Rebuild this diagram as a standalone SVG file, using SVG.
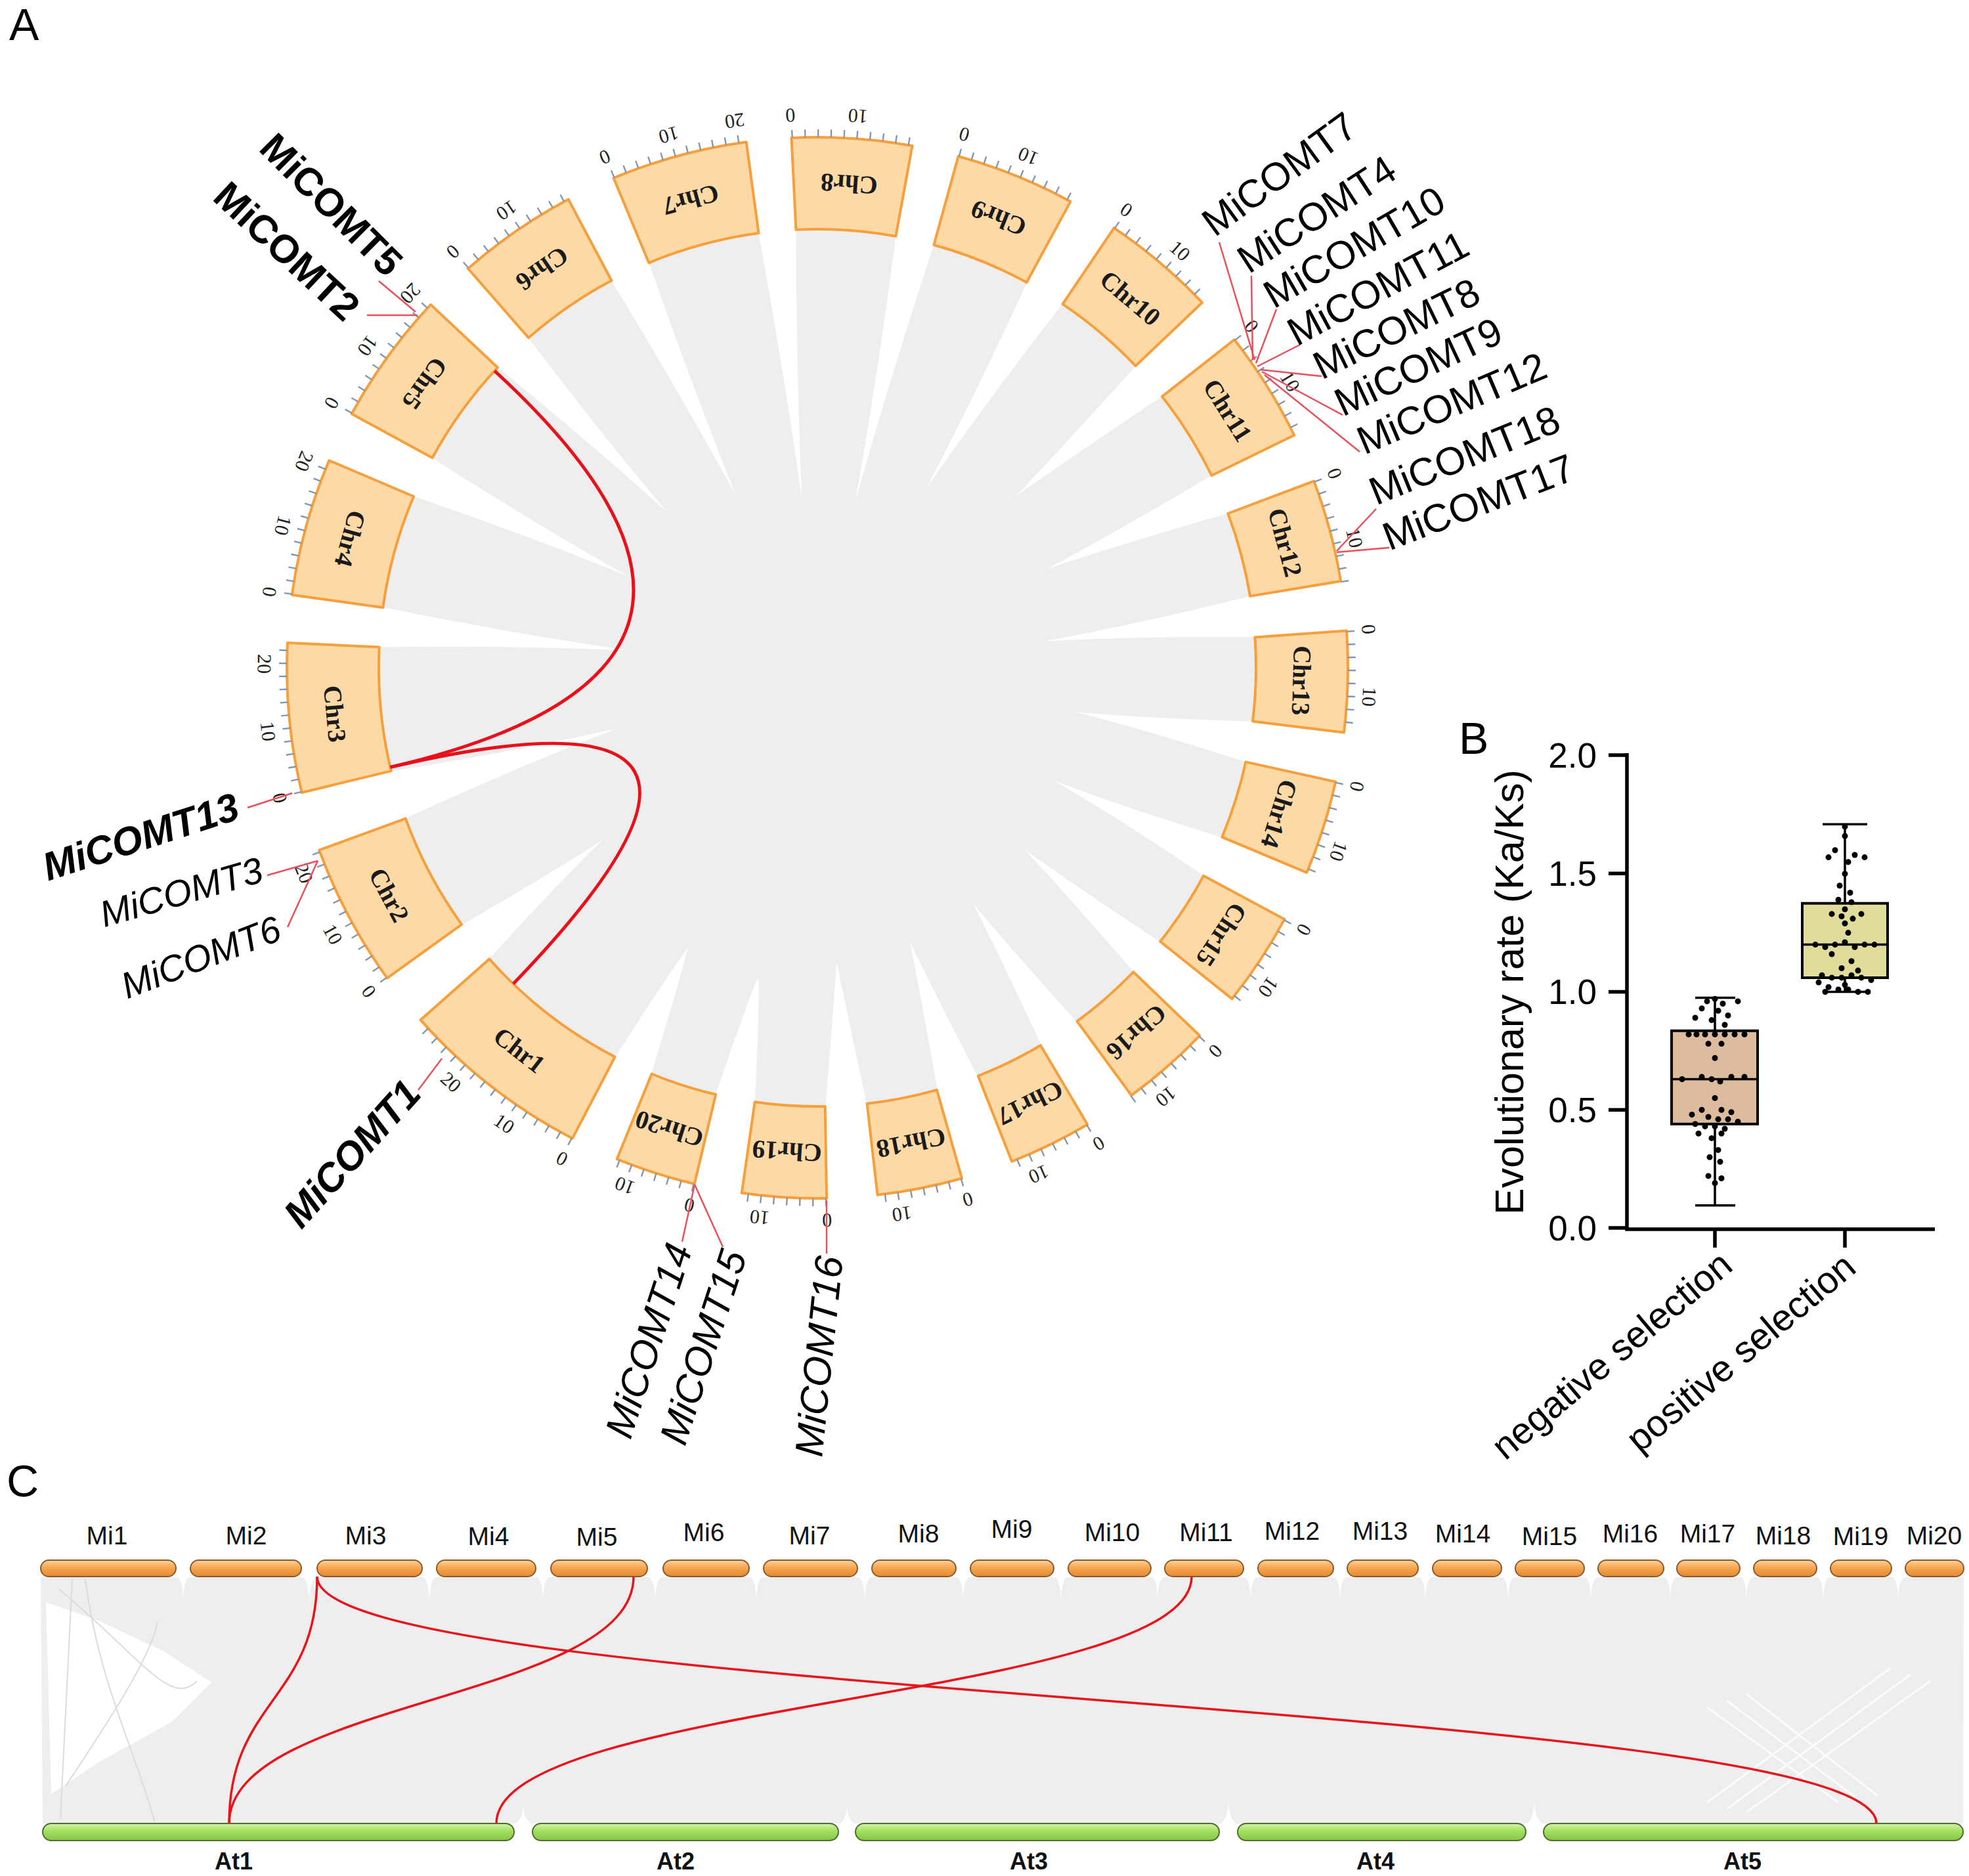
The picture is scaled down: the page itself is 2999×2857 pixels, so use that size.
<svg xmlns="http://www.w3.org/2000/svg" width="2999" height="2857" viewBox="0 0 2999 2857">
<defs>
<style>
.chr{fill:#fdd9a6;stroke:#f5a03c;stroke-width:4;stroke-linejoin:round}
.cl{font-family:"Liberation Serif",serif;font-weight:bold;font-size:39px;fill:#1a1a1a;text-anchor:middle;dominant-baseline:central}
.tl{font-family:"Liberation Serif",serif;font-size:30px;fill:#222;text-anchor:middle;dominant-baseline:central}
.tk{fill:none;stroke:#8497b0;stroke-width:12}
.d15{stroke-dasharray:2.4 17.49 2.4 17.49 2.4 17.49 2.4 17.49 2.4 17.49 2.4 17.49 2.4 17.49 2.4 17.49 2.4 17.49 2.4 17.49 2.4 17.49 2.4 17.49 2.4 17.49 2.4 17.49 2.4 6000}
.d12{stroke-dasharray:2.4 17.49 2.4 17.49 2.4 17.49 2.4 17.49 2.4 17.49 2.4 17.49 2.4 17.49 2.4 17.49 2.4 17.49 2.4 17.49 2.4 17.49 2.4 6000}
.d11{stroke-dasharray:2.4 17.49 2.4 17.49 2.4 17.49 2.4 17.49 2.4 17.49 2.4 17.49 2.4 17.49 2.4 17.49 2.4 17.49 2.4 17.49 2.4 6000}
.d10{stroke-dasharray:2.4 17.49 2.4 17.49 2.4 17.49 2.4 17.49 2.4 17.49 2.4 17.49 2.4 17.49 2.4 17.49 2.4 17.49 2.4 6000}
.d9{stroke-dasharray:2.4 17.49 2.4 17.49 2.4 17.49 2.4 17.49 2.4 17.49 2.4 17.49 2.4 17.49 2.4 17.49 2.4 6000}
.d8{stroke-dasharray:2.4 17.49 2.4 17.49 2.4 17.49 2.4 17.49 2.4 17.49 2.4 17.49 2.4 17.49 2.4 6000}
.d7{stroke-dasharray:2.4 17.49 2.4 17.49 2.4 17.49 2.4 17.49 2.4 17.49 2.4 17.49 2.4 6000}
.gl{fill:none;stroke:#e8505b;stroke-width:2.5}
.lk{fill:none;stroke:#e8101a;stroke-width:5}
.gn{font-family:"Liberation Sans",Arial,sans-serif;font-size:60px;fill:#000}
.bd{font-weight:bold}
.it{font-style:italic}
.sm{font-size:56px}
.pl{font-family:"Liberation Sans",Arial,sans-serif;font-size:68px;fill:#000}
.ax{font-family:"Liberation Sans",Arial,sans-serif;font-size:53px;fill:#000}
.axt{font-size:61px}
.xl{font-size:57px}
.mi{font-family:"Liberation Sans",Arial,sans-serif;font-size:39px;fill:#111;text-anchor:middle}
.at{font-family:"Liberation Sans",Arial,sans-serif;font-size:36px;font-weight:bold;fill:#111;text-anchor:middle}
.op{fill:url(#og);stroke:#8c5a28;stroke-width:2}
.gp{fill:url(#gg);stroke:#4f6f2c;stroke-width:2}
.rl{fill:none;stroke:#e8141c;stroke-width:3.5}
.wn{fill:#fff}
.axl{fill:none;stroke:#000;stroke-width:5.5}
.box{stroke:#000;stroke-width:4}
.wh{fill:none;stroke:#000;stroke-width:3.5}
</style>
<linearGradient id="og" x1="0" y1="0" x2="0" y2="1"><stop offset="0" stop-color="#fdd3a0"/><stop offset="0.45" stop-color="#f8a64f"/><stop offset="1" stop-color="#e08a36"/></linearGradient>
<linearGradient id="gg" x1="0" y1="0" x2="0" y2="1"><stop offset="0" stop-color="#d4f5a8"/><stop offset="0.45" stop-color="#a3e060"/><stop offset="1" stop-color="#86c448"/></linearGradient>
</defs>
<rect width="2999" height="2857" fill="#fff"/>

<!-- Panel A -->
<text class="pl" x="14" y="61">A</text>
<g id="ribbons">
<circle cx="1245" cy="1017" r="668" fill="#eeeeee"/>
<g transform="translate(1245 1017)" class="wn">
<path d="M-34,-672 Q-10,-520 0,-420 Q10,-520 34,-672 Z" transform="rotate(231.3)"/>
<path d="M-38,-672 Q-12,-480 0,-320 Q12,-480 38,-672 Z" transform="rotate(253.15)"/>
<path d="M-31,-672 Q-10,-480 0,-290 Q10,-480 31,-672 Z" transform="rotate(275.3)"/>
<path d="M-33,-672 Q-10,-480 0,-320 Q10,-480 33,-672 Z" transform="rotate(295.8)"/>
<path d="M-33,-672 Q-10,-480 0,-330 Q10,-480 33,-672 Z" transform="rotate(316)"/>
<path d="M-32,-672 Q-10,-460 0,-290 Q10,-460 32,-672 Z" transform="rotate(334.7)"/>
<path d="M-29,-672 Q-10,-460 0,-260 Q10,-460 29,-672 Z" transform="rotate(354.75)"/>
<path d="M-30,-672 Q-10,-460 0,-260 Q10,-460 30,-672 Z" transform="rotate(12.85)"/>
<path d="M-32,-672 Q-10,-480 0,-320 Q10,-480 32,-672 Z" transform="rotate(31.25)"/>
<path d="M-31,-672 Q-10,-500 0,-400 Q10,-500 31,-672 Z" transform="rotate(49.15)"/>
<path d="M-32,-672 Q-10,-500 0,-380 Q10,-500 32,-672 Z" transform="rotate(66.7)"/>
<path d="M-32,-672 Q-10,-500 0,-350 Q10,-500 32,-672 Z" transform="rotate(83.3)"/>
<path d="M-32,-672 Q-10,-520 0,-400 Q10,-520 32,-672 Z" transform="rotate(99.7)"/>
<path d="M-33,-672 Q-10,-520 0,-400 Q10,-520 33,-672 Z" transform="rotate(115.5)"/>
<path d="M-31,-672 Q-10,-520 0,-420 Q10,-520 31,-672 Z" transform="rotate(131.25)"/>
<path d="M-33,-672 Q-10,-520 0,-430 Q10,-520 33,-672 Z" transform="rotate(146.55)"/>
<path d="M-33,-672 Q-10,-520 0,-440 Q10,-520 33,-672 Z" transform="rotate(161.35)"/>
<path d="M-32,-672 Q-10,-520 0,-450 Q10,-520 32,-672 Z" transform="rotate(176.25)"/>
<path d="M-31,-672 Q-10,-520 0,-480 Q10,-520 31,-672 Z" transform="rotate(190.8)"/>
<path d="M-31,-672 Q-10,-520 0,-470 Q10,-520 31,-672 Z" transform="rotate(204.85)"/>
</g>
</g>

<g id="chr1"><path class="chr" d="M871.9,1733.7 A808,808 0 0 1 640.6,1553.3 L745.3,1460.4 A668,668 0 0 0 936.6,1609.5 Z"/>
<circle class="tk d15" r="814" transform="translate(1245 1017) rotate(117.5)"/>
<g transform="translate(1245 1017)"><text class="cl" transform="rotate(217.95) rotate(180 0 -738)" x="0" y="-738">Chr1</text>
<text class="tl" transform="rotate(207.5) rotate(180 0 -842)" x="0" y="-842">0</text><text class="tl" transform="rotate(214.5) rotate(180 0 -842)" x="0" y="-842">10</text><text class="tl" transform="rotate(221.5) rotate(180 0 -842)" x="0" y="-842">20</text></g></g>

<g id="chr2"><path class="chr" d="M589.7,1489.6 A808,808 0 0 1 486.2,1294.7 L617.7,1246.6 A668,668 0 0 0 703.2,1407.8 Z"/>
<circle class="tk d12" r="814" transform="translate(1245 1017) rotate(144.2)"/>
<g transform="translate(1245 1017)"><text class="cl" transform="rotate(242.05) rotate(180 0 -738)" x="0" y="-738">Chr2</text>
<text class="tl" transform="rotate(234.2) rotate(180 0 -842)" x="0" y="-842">0</text><text class="tl" transform="rotate(241.2) rotate(180 0 -842)" x="0" y="-842">10</text><text class="tl" transform="rotate(248.2) rotate(180 0 -842)" x="0" y="-842">20</text></g></g>

<g id="chr3"><path class="chr" d="M459.7,1207.0 A808,808 0 0 1 437.9,978.9 L577.7,985.5 A668,668 0 0 0 595.7,1174.1 Z"/>
<circle class="tk d12" r="814" transform="translate(1245 1017) rotate(166.4)"/>
<g transform="translate(1245 1017)"><text class="cl" transform="rotate(264.55) rotate(180 0 -738)" x="0" y="-738">Chr3</text>
<text class="tl" transform="rotate(256.4) rotate(180 0 -842)" x="0" y="-842">0</text><text class="tl" transform="rotate(263.4) rotate(180 0 -842)" x="0" y="-842">10</text><text class="tl" transform="rotate(270.4) rotate(180 0 -842)" x="0" y="-842">20</text></g></g>

<g id="chr4"><path class="chr" d="M444.7,906.0 A808,808 0 0 1 501.2,701.3 L630.1,756.0 A668,668 0 0 0 583.3,925.2 Z"/>
<circle class="tk d11" r="814" transform="translate(1245 1017) rotate(187.9)"/>
<g transform="translate(1245 1017)"><text class="cl" transform="rotate(285.45) rotate(180 0 -738)" x="0" y="-738">Chr4</text>
<text class="tl" transform="rotate(277.9) rotate(180 0 -842)" x="0" y="-842">0</text><text class="tl" transform="rotate(284.9) rotate(180 0 -842)" x="0" y="-842">10</text><text class="tl" transform="rotate(291.9) rotate(180 0 -842)" x="0" y="-842">20</text></g></g>

<g id="chr5"><path class="chr" d="M535.6,630.2 A808,808 0 0 1 656.0,463.9 L758.0,559.7 A668,668 0 0 0 658.5,697.2 Z"/>
<circle class="tk d11" r="814" transform="translate(1245 1017) rotate(208.6)"/>
<g transform="translate(1245 1017)"><text class="cl" transform="rotate(305.9) rotate(180 0 -738)" x="0" y="-738">Chr5</text>
<text class="tl" transform="rotate(298.6) rotate(180 0 -842)" x="0" y="-842">0</text><text class="tl" transform="rotate(305.6) rotate(180 0 -842)" x="0" y="-842">10</text><text class="tl" transform="rotate(312.6) rotate(180 0 -842)" x="0" y="-842">20</text></g></g>

<g id="chr6"><path class="chr" d="M712.8,409.0 A808,808 0 0 1 865.7,303.6 L931.4,427.2 A668,668 0 0 0 805.0,514.4 Z"/>
<circle class="tk d10" r="814" transform="translate(1245 1017) rotate(228.8)"/>
<g transform="translate(1245 1017)"><text class="cl" transform="rotate(325.4) rotate(180 0 -738)" x="0" y="-738">Chr6</text>
<text class="tl" transform="rotate(318.8) rotate(180 0 -842)" x="0" y="-842">0</text><text class="tl" transform="rotate(325.8) rotate(180 0 -842)" x="0" y="-842">10</text></g></g>

<g id="chr7"><path class="chr" d="M934.5,271.1 A808,808 0 0 1 1136.7,216.3 L1155.5,355.0 A668,668 0 0 0 988.3,400.3 Z"/>
<circle class="tk d11" r="814" transform="translate(1245 1017) rotate(247.4)"/>
<g transform="translate(1245 1017)"><text class="cl" transform="rotate(344.85) rotate(180 0 -738)" x="0" y="-738">Chr7</text>
<text class="tl" transform="rotate(337.4) rotate(180 0 -842)" x="0" y="-842">0</text><text class="tl" transform="rotate(344.4) rotate(180 0 -842)" x="0" y="-842">10</text><text class="tl" transform="rotate(351.4) rotate(180 0 -842)" x="0" y="-842">20</text></g></g>

<g id="chr8"><path class="chr" d="M1205.5,210.0 A808,808 0 0 1 1389.5,222.0 L1364.4,359.8 A668,668 0 0 0 1212.4,349.8 Z"/>
<circle class="tk d10" r="814" transform="translate(1245 1017) rotate(267.2)"/>
<g transform="translate(1245 1017)"><text class="cl" transform="rotate(3.75) rotate(180 0 -738)" x="0" y="-738">Chr8</text>
<text class="tl" transform="rotate(357.2) rotate(180 0 -842)" x="0" y="-842">0</text><text class="tl" transform="rotate(364.2) rotate(180 0 -842)" x="0" y="-842">10</text></g></g>

<g id="chr9"><path class="chr" d="M1459.6,238.0 A808,808 0 0 1 1630.5,306.9 L1563.7,430.0 A668,668 0 0 0 1422.4,373.0 Z"/>
<circle class="tk d10" r="814" transform="translate(1245 1017) rotate(-74.6)"/>
<g transform="translate(1245 1017)"><text class="cl" transform="rotate(21.95) rotate(180 0 -738)" x="0" y="-738">Chr9</text>
<text class="tl" transform="rotate(15.4) rotate(180 0 -842)" x="0" y="-842">0</text><text class="tl" transform="rotate(22.4) rotate(180 0 -842)" x="0" y="-842">10</text></g></g>

<g id="chr10"><path class="chr" d="M1696.8,347.1 A808,808 0 0 1 1831.1,460.8 L1729.6,557.2 A668,668 0 0 0 1618.5,463.2 Z"/>
<circle class="tk d9" r="814" transform="translate(1245 1017) rotate(-56)"/>
<g transform="translate(1245 1017)"><text class="cl" transform="rotate(40.25)" x="0" y="-738">Chr10</text>
<text class="tl" transform="rotate(34)" x="0" y="-842">0</text><text class="tl" transform="rotate(41)" x="0" y="-842">10</text></g></g>

<g id="chr11"><path class="chr" d="M1880.0,517.3 A808,808 0 0 1 1971.2,662.8 L1845.4,724.2 A668,668 0 0 0 1770.0,603.9 Z"/>
<circle class="tk d9" r="814" transform="translate(1245 1017) rotate(-38.2)"/>
<g transform="translate(1245 1017)"><text class="cl" transform="rotate(57.9)" x="0" y="-738">Chr11</text>
<text class="tl" transform="rotate(51.8)" x="0" y="-842">0</text><text class="tl" transform="rotate(58.8)" x="0" y="-842">10</text></g></g>

<g id="chr12"><path class="chr" d="M2001.3,732.7 A808,808 0 0 1 2042.2,885.0 L1904.0,907.9 A668,668 0 0 0 1870.3,782.0 Z"/>
<circle class="tk d9" r="814" transform="translate(1245 1017) rotate(-20.6)"/>
<g transform="translate(1245 1017)"><text class="cl" transform="rotate(75)" x="0" y="-738">Chr12</text>
<text class="tl" transform="rotate(69.4)" x="0" y="-842">0</text><text class="tl" transform="rotate(76.4)" x="0" y="-842">10</text></g></g>

<g id="chr13"><path class="chr" d="M2051.0,960.6 A808,808 0 0 1 2047.0,1115.5 L1908.0,1098.4 A668,668 0 0 0 1911.4,970.4 Z"/>
<circle class="tk d8" r="814" transform="translate(1245 1017) rotate(-4)"/>
<g transform="translate(1245 1017)"><text class="cl" transform="rotate(91.5)" x="0" y="-738">Chr13</text>
<text class="tl" transform="rotate(86)" x="0" y="-842">0</text><text class="tl" transform="rotate(93)" x="0" y="-842">10</text></g></g>

<g id="chr14"><path class="chr" d="M2034.2,1190.5 A808,808 0 0 1 1990.4,1328.8 L1861.3,1274.8 A668,668 0 0 0 1897.4,1160.4 Z"/>
<circle class="tk d8" r="814" transform="translate(1245 1017) rotate(12.4)"/>
<g transform="translate(1245 1017)"><text class="cl" transform="rotate(107.55)" x="0" y="-738">Chr14</text>
<text class="tl" transform="rotate(102.4)" x="0" y="-842">0</text><text class="tl" transform="rotate(109.4)" x="0" y="-842">10</text></g></g>

<g id="chr15"><path class="chr" d="M1956.4,1400.1 A808,808 0 0 1 1876.5,1521.1 L1767.1,1433.8 A668,668 0 0 0 1833.2,1333.7 Z"/>
<circle class="tk d8" r="814" transform="translate(1245 1017) rotate(28.3)"/>
<g transform="translate(1245 1017)"><text class="cl" transform="rotate(123.45)" x="0" y="-738">Chr15</text>
<text class="tl" transform="rotate(118.3)" x="0" y="-842">0</text><text class="tl" transform="rotate(125.3)" x="0" y="-842">10</text></g></g>

<g id="chr16"><path class="chr" d="M1827.2,1577.3 A808,808 0 0 1 1723.3,1668.2 L1640.5,1555.4 A668,668 0 0 0 1726.3,1480.2 Z"/>
<circle class="tk d8" r="814" transform="translate(1245 1017) rotate(43.9)"/>
<g transform="translate(1245 1017)"><text class="cl" transform="rotate(138.8)" x="0" y="-738">Chr16</text>
<text class="tl" transform="rotate(133.9)" x="0" y="-842">0</text><text class="tl" transform="rotate(140.9)" x="0" y="-842">10</text></g></g>

<g id="chr17"><path class="chr" d="M1656.3,1712.5 A808,808 0 0 1 1541.1,1768.8 L1489.8,1638.5 A668,668 0 0 0 1585.0,1592.0 Z"/>
<circle class="tk d7" r="814" transform="translate(1245 1017) rotate(59.4)"/>
<g transform="translate(1245 1017)"><text class="cl" transform="rotate(153.95)" x="0" y="-738">Chr17</text>
<text class="tl" transform="rotate(149.4)" x="0" y="-842">0</text><text class="tl" transform="rotate(156.4)" x="0" y="-842">10</text></g></g>

<g id="chr18"><path class="chr" d="M1465.0,1794.5 A808,808 0 0 1 1336.5,1819.8 L1320.6,1680.7 A668,668 0 0 0 1426.9,1659.8 Z"/>
<circle class="tk d7" r="814" transform="translate(1245 1017) rotate(74.2)"/>
<g transform="translate(1245 1017)"><text class="cl" transform="rotate(168.85)" x="0" y="-738">Chr18</text>
<text class="tl" transform="rotate(164.2)" x="0" y="-842">0</text><text class="tl" transform="rotate(171.2)" x="0" y="-842">10</text></g></g>

<g id="chr19"><path class="chr" d="M1259.1,1824.9 A808,808 0 0 1 1129.8,1816.7 L1149.7,1678.2 A668,668 0 0 0 1256.7,1684.9 Z"/>
<circle class="tk d7" r="814" transform="translate(1245 1017) rotate(89)"/>
<g transform="translate(1245 1017)"><text class="cl" transform="rotate(183.6)" x="0" y="-738">Chr19</text>
<text class="tl" transform="rotate(179)" x="0" y="-842">0</text><text class="tl" transform="rotate(186)" x="0" y="-842">10</text></g></g>

<g id="chr20"><path class="chr" d="M1057.7,1803.0 A808,808 0 0 1 939.7,1765.1 L992.6,1635.5 A668,668 0 0 0 1090.2,1666.8 Z"/>
<circle class="tk d7" r="814" transform="translate(1245 1017) rotate(103.4)"/>
<g transform="translate(1245 1017)"><text class="cl" transform="rotate(197.8)" x="0" y="-738">Chr20</text>
<text class="tl" transform="rotate(193.4)" x="0" y="-842">0</text><text class="tl" transform="rotate(200.4)" x="0" y="-842">10</text></g></g>

<g id="connectors-A">
<path class="lk" d="M753.3,564.8 Q1245,1017 594.4,1168.4"/>
<path class="lk" d="M594.4,1168.4 Q1245,1017 781.8,1498.3"/>
<path class="gl" d="M577,428 L633,475"/>
<path class="gl" d="M559,480 L636,480"/>
<path class="gl" d="M377,1230 L445,1208"/>
<path class="gl" d="M407,1333 L484,1311"/>
<path class="gl" d="M438,1412 L484,1311"/>
<path class="gl" d="M637,1660 L673,1612"/>
<path class="gl" d="M1039,1891 L1058,1804"/>
<path class="gl" d="M1101,1899 L1058,1804"/>
<path class="gl" d="M1259,1909 L1259,1828"/>
<path class="gl" d="M1857,369 L1911,548"/>
<path class="gl" d="M1906,420 L1908,548"/>
<path class="gl" d="M1944,471 L1913,553"/>
<path class="gl" d="M1980,525 L1915,558"/>
<path class="gl" d="M2013,573 L1920,563"/>
<path class="gl" d="M2045,632 L1922,566"/>
<path class="gl" d="M2071,688 L1926,571"/>
<path class="gl" d="M2096,775 L2036,839"/>
<path class="gl" d="M2116,834 L2036,841"/>
</g>

<g id="gene-labels">
<text class="gn bd" text-anchor="end" transform="rotate(45 588 424)" x="588" y="424">MiCOMT5</text>
<text class="gn bd" text-anchor="end" transform="rotate(43 524 492)" x="524" y="492">MiCOMT2</text>
<text class="gn bd it" text-anchor="end" transform="rotate(-18 368 1246)" x="368" y="1246">MiCOMT13</text>
<text class="gn it sm" text-anchor="end" transform="rotate(-16 404 1342)" x="404" y="1342">MiCOMT3</text>
<text class="gn it sm" text-anchor="end" transform="rotate(-21 432 1430)" x="432" y="1430">MiCOMT6</text>
<text class="gn bd it" text-anchor="end" transform="rotate(-48 644 1668)" x="644" y="1668">MiCOMT1</text>
<text class="gn it" text-anchor="end" transform="rotate(-72 1055 1902)" x="1055" y="1902">MiCOMT14</text>
<text class="gn it" text-anchor="end" transform="rotate(-72 1138 1912)" x="1138" y="1912">MiCOMT15</text>
<text class="gn it" text-anchor="end" transform="rotate(-84 1284 1915)" x="1284" y="1915">MiCOMT16</text>
<text class="gn" transform="rotate(-36 1850 362)" x="1850" y="362">MiCOMT7</text>
<text class="gn" transform="rotate(-33 1902 418)" x="1902" y="418">MiCOMT4</text>
<text class="gn" transform="rotate(-30 1940 471)" x="1940" y="471">MiCOMT10</text>
<text class="gn" transform="rotate(-28 1975 528)" x="1975" y="528">MiCOMT11</text>
<text class="gn" transform="rotate(-26 2013 579)" x="2013" y="579">MiCOMT8</text>
<text class="gn" transform="rotate(-25 2045 635)" x="2045" y="635">MiCOMT9</text>
<text class="gn" transform="rotate(-23 2078 693)" x="2078" y="693">MiCOMT12</text>
<text class="gn" transform="rotate(-22 2096 770)" x="2096" y="770">MiCOMT18</text>
<text class="gn" transform="rotate(-21 2116 839)" x="2116" y="839">MiCOMT17</text>
</g>

<!-- Panel B -->
<g id="panelB">
<text class="pl" x="2222" y="1148">B</text>
<text class="ax axt" text-anchor="middle" transform="rotate(-90 2320 1511)" x="2320" y="1511">Evolutionary rate (Ka/Ks)</text>
<g class="ax" text-anchor="end">
<text x="2432" y="1169">2.0</text>
<text x="2432" y="1349">1.5</text>
<text x="2432" y="1529">1.0</text>
<text x="2432" y="1709">0.5</text>
<text x="2432" y="1889">0.0</text>
</g>
<path class="axl" d="M2478,1147 L2478,1872 L2947,1872 M2450,1150 L2478,1150 M2450,1330.3 L2478,1330.3 M2450,1510.5 L2478,1510.5 M2450,1690.3 L2478,1690.3 M2450,1870 L2478,1870 M2612,1870 L2612,1900 M2810,1870 L2810,1900"/>
<text class="ax xl" text-anchor="end" transform="rotate(-40 2642 1932)" x="2642" y="1932">negative selection</text>
<text class="ax xl" text-anchor="end" transform="rotate(-40 2830 1935)" x="2830" y="1935">positive selection</text>
<g id="box-neg">
<path class="wh" d="M2612,1519.5 L2612,1835.8 M2582,1519.5 L2643,1519.5 M2582,1835.8 L2643,1835.8"/>
<rect class="box" x="2546" y="1569.8" width="131" height="142" fill="#dcbb9f"/>
<path class="wh" d="M2546,1643.5 L2677,1643.5"/>
<g fill="#000">
<circle cx="2612" cy="1521.3" r="4.5"/><circle cx="2600" cy="1524.9" r="4.5"/><circle cx="2624" cy="1528.5" r="4.5"/><circle cx="2647" cy="1524.9" r="4.5"/><circle cx="2592" cy="1535.7" r="4.5"/><circle cx="2617" cy="1539.3" r="4.5"/><circle cx="2632" cy="1546.5" r="4.5"/><circle cx="2582" cy="1550" r="4.5"/><circle cx="2607" cy="1553.6" r="4.5"/><circle cx="2627" cy="1560.8" r="4.5"/>
<circle cx="2572" cy="1575.2" r="4.5"/><circle cx="2584" cy="1575.2" r="4.5"/><circle cx="2597" cy="1575.2" r="4.5"/><circle cx="2612" cy="1575.2" r="4.5"/><circle cx="2627" cy="1575.2" r="4.5"/><circle cx="2642" cy="1575.2" r="4.5"/><circle cx="2657" cy="1575.2" r="4.5"/><circle cx="2602" cy="1589.6" r="4.5"/><circle cx="2622" cy="1589.6" r="4.5"/><circle cx="2612" cy="1611.2" r="4.5"/>
<circle cx="2592" cy="1639.9" r="4.5"/><circle cx="2607" cy="1643.5" r="4.5"/><circle cx="2620" cy="1647.1" r="4.5"/><circle cx="2637" cy="1639.9" r="4.5"/><circle cx="2657" cy="1639.9" r="4.5"/><circle cx="2562" cy="1643.5" r="4.5"/><circle cx="2612" cy="1672.3" r="4.5"/><circle cx="2622" cy="1690.3" r="4.5"/><circle cx="2592" cy="1690.3" r="4.5"/><circle cx="2637" cy="1693.8" r="4.5"/>
<circle cx="2577" cy="1697.4" r="4.5"/><circle cx="2602" cy="1701" r="4.5"/><circle cx="2617" cy="1704.6" r="4.5"/><circle cx="2632" cy="1704.6" r="4.5"/><circle cx="2647" cy="1708.2" r="4.5"/><circle cx="2582" cy="1711.8" r="4.5"/><circle cx="2597" cy="1715.4" r="4.5"/><circle cx="2612" cy="1715.4" r="4.5"/><circle cx="2627" cy="1719" r="4.5"/><circle cx="2587" cy="1726.2" r="4.5"/>
<circle cx="2622" cy="1726.2" r="4.5"/><circle cx="2607" cy="1733.4" r="4.5"/><circle cx="2617" cy="1751.4" r="4.5"/><circle cx="2604" cy="1762.2" r="4.5"/><circle cx="2620" cy="1769.3" r="4.5"/><circle cx="2602" cy="1790.9" r="4.5"/><circle cx="2622" cy="1794.5" r="4.5"/><circle cx="2612" cy="1801.7" r="4.5"/>
</g>
</g>
<g id="box-pos">
<path class="wh" d="M2810,1255.3 L2810,1510.5 M2776,1255.3 L2844,1255.3 M2776,1510.5 L2844,1510.5"/>
<rect class="box" x="2745" y="1375.7" width="130" height="113.3" fill="#dfdc9c"/>
<path class="wh" d="M2745,1438.6 L2875,1438.6"/>
<g fill="#000">
<circle cx="2810" cy="1258.9" r="4.5"/><circle cx="2810" cy="1273.2" r="4.5"/><circle cx="2795" cy="1294.8" r="4.5"/><circle cx="2825" cy="1302" r="4.5"/><circle cx="2785" cy="1305.6" r="4.5"/><circle cx="2815" cy="1312.8" r="4.5"/><circle cx="2840" cy="1305.6" r="4.5"/><circle cx="2810" cy="1330.8" r="4.5"/><circle cx="2802" cy="1348.7" r="4.5"/><circle cx="2818" cy="1359.5" r="4.5"/>
<circle cx="2800" cy="1370.3" r="4.5"/><circle cx="2820" cy="1373.9" r="4.5"/><circle cx="2810" cy="1384.7" r="4.5"/><circle cx="2790" cy="1391.9" r="4.5"/><circle cx="2805" cy="1395.5" r="4.5"/><circle cx="2822" cy="1399.1" r="4.5"/><circle cx="2835" cy="1391.9" r="4.5"/><circle cx="2810" cy="1406.2" r="4.5"/><circle cx="2815" cy="1420.6" r="4.5"/><circle cx="2765" cy="1438.6" r="4.5"/>
<circle cx="2780" cy="1442.2" r="4.5"/><circle cx="2795" cy="1438.6" r="4.5"/><circle cx="2810" cy="1435" r="4.5"/><circle cx="2825" cy="1442.2" r="4.5"/><circle cx="2840" cy="1438.6" r="4.5"/><circle cx="2855" cy="1438.6" r="4.5"/><circle cx="2790" cy="1453" r="4.5"/><circle cx="2820" cy="1463.8" r="4.5"/><circle cx="2805" cy="1474.5" r="4.5"/><circle cx="2830" cy="1478.1" r="4.5"/>
<circle cx="2775" cy="1485.3" r="4.5"/><circle cx="2790" cy="1488.9" r="4.5"/><circle cx="2805" cy="1488.9" r="4.5"/><circle cx="2820" cy="1485.3" r="4.5"/><circle cx="2835" cy="1488.9" r="4.5"/><circle cx="2850" cy="1492.5" r="4.5"/><circle cx="2770" cy="1496.1" r="4.5"/><circle cx="2785" cy="1503.3" r="4.5"/><circle cx="2800" cy="1506.9" r="4.5"/><circle cx="2815" cy="1506.9" r="4.5"/>
<circle cx="2830" cy="1510.5" r="4.5"/><circle cx="2845" cy="1510.5" r="4.5"/><circle cx="2780" cy="1510.5" r="4.5"/><circle cx="2810" cy="1499.7" r="4.5"/>
</g>
</g>
</g>

<!-- Panel C -->
<text class="pl" x="10" y="2279">C</text>
<g id="synteny-bg">
<path d="M62,2402 L2991,2402 L2990,2777 L65,2777 Z" fill="#eeeeee"/>
<path class="wn" d="M70,2440 L150,2468 L250,2515 L322,2562 L262,2622 L150,2684 L78,2732 Z"/>
<g stroke="#dcdcdc" stroke-width="2" fill="none">
<path d="M110,2405 L92,2770"/><path d="M130,2405 C150,2560 200,2650 236,2775"/><path d="M90,2420 C220,2530 260,2600 300,2560"/><path d="M100,2720 C180,2600 230,2520 240,2470"/>
</g>
<g class="wn">
<path d="M268,2400 Q279,2405 279,2440 Q279,2405 290,2400 Z"/>
<path d="M459,2400 Q471,2405 471,2445 Q471,2405 483,2400 Z"/>
<path d="M643,2400 Q654,2405 654,2448 Q654,2405 665,2400 Z"/>
<path d="M816,2400 Q827,2405 827,2440 Q827,2405 839,2400 Z"/>
<path d="M986,2400 Q998,2405 998,2440 Q998,2405 1010,2400 Z"/>
<path d="M1141,2400 Q1152,2405 1152,2442 Q1152,2405 1163,2400 Z"/>
<path d="M1306,2400 Q1317,2405 1317,2440 Q1317,2405 1328,2400 Z"/>
<path d="M1456,2400 Q1467,2405 1467,2440 Q1467,2405 1478,2400 Z"/>
<path d="M1605,2400 Q1616,2405 1616,2445 Q1616,2405 1627,2400 Z"/>
<path d="M1753,2400 Q1763,2405 1763,2440 Q1763,2405 1774,2400 Z"/>
<path d="M1894,2400 Q1905,2405 1905,2440 Q1905,2405 1916,2400 Z"/>
<path d="M2031,2400 Q2041,2405 2041,2440 Q2041,2405 2052,2400 Z"/>
<path d="M2160,2400 Q2171,2405 2171,2440 Q2171,2405 2182,2400 Z"/>
<path d="M2287,2400 Q2297,2405 2297,2440 Q2297,2405 2308,2400 Z"/>
<path d="M2413,2400 Q2423,2405 2423,2440 Q2423,2405 2434,2400 Z"/>
<path d="M2534,2400 Q2544,2405 2544,2440 Q2544,2405 2554,2400 Z"/>
<path d="M2650,2400 Q2660,2405 2660,2440 Q2660,2405 2671,2400 Z"/>
<path d="M2767,2400 Q2777,2405 2777,2440 Q2777,2405 2788,2400 Z"/>
<path d="M2881,2400 Q2891,2405 2891,2440 Q2891,2405 2902,2400 Z"/>
<path d="M783,2778 Q797,2772 797,2745 Q797,2772 811,2778 Z"/>
<path d="M1277,2778 Q1290,2772 1290,2748 Q1290,2772 1303,2778 Z"/>
<path d="M1857,2778 Q1871,2772 1871,2740 Q1871,2772 1885,2778 Z"/>
<path d="M2324,2778 Q2337,2772 2337,2738 Q2337,2772 2351,2778 Z"/>
</g>
<g stroke="#ffffff" stroke-width="3" opacity="0.8" fill="none">
<path d="M2600,2745 L2880,2540"/><path d="M2630,2755 L2910,2550"/><path d="M2660,2760 L2940,2560"/>
<path d="M2600,2600 L2800,2745"/><path d="M2630,2590 L2830,2740"/><path d="M2660,2580 L2860,2735"/>
</g>
</g>

<g id="mi-chromosomes">
<g id="Mi1"><rect class="op" x="62" y="2376" width="206" height="25" rx="12.5"/><text class="mi" x="163" y="2352">Mi1</text></g>
<g id="Mi2"><rect class="op" x="290" y="2376" width="169" height="25" rx="12.5"/><text class="mi" x="375" y="2352">Mi2</text></g>
<g id="Mi3"><rect class="op" x="483" y="2376" width="160" height="25" rx="12.5"/><text class="mi" x="557" y="2352">Mi3</text></g>
<g id="Mi4"><rect class="op" x="665" y="2376" width="151" height="25" rx="12.5"/><text class="mi" x="744" y="2353">Mi4</text></g>
<g id="Mi5"><rect class="op" x="839" y="2376" width="147" height="25" rx="12.5"/><text class="mi" x="909" y="2354">Mi5</text></g>
<g id="Mi6"><rect class="op" x="1010" y="2376" width="131" height="25" rx="12.5"/><text class="mi" x="1072" y="2347">Mi6</text></g>
<g id="Mi7"><rect class="op" x="1163" y="2376" width="143" height="25" rx="12.5"/><text class="mi" x="1233" y="2352">Mi7</text></g>
<g id="Mi8"><rect class="op" x="1328" y="2376" width="128" height="25" rx="12.5"/><text class="mi" x="1399" y="2349">Mi8</text></g>
<g id="Mi9"><rect class="op" x="1478" y="2376" width="127" height="25" rx="12.5"/><text class="mi" x="1541" y="2342">Mi9</text></g>
<g id="Mi10"><rect class="op" x="1627" y="2376" width="126" height="25" rx="12.5"/><text class="mi" x="1694" y="2347">Mi10</text></g>
<g id="Mi11"><rect class="op" x="1774" y="2376" width="120" height="25" rx="12.5"/><text class="mi" x="1837" y="2347">Mi11</text></g>
<g id="Mi12"><rect class="op" x="1916" y="2376" width="115" height="25" rx="12.5"/><text class="mi" x="1968" y="2345">Mi12</text></g>
<g id="Mi13"><rect class="op" x="2052" y="2376" width="108" height="25" rx="12.5"/><text class="mi" x="2102" y="2345">Mi13</text></g>
<g id="Mi14"><rect class="op" x="2182" y="2376" width="105" height="25" rx="12.5"/><text class="mi" x="2228" y="2349">Mi14</text></g>
<g id="Mi15"><rect class="op" x="2308" y="2376" width="105" height="25" rx="12.5"/><text class="mi" x="2360" y="2353">Mi15</text></g>
<g id="Mi16"><rect class="op" x="2434" y="2376" width="100" height="25" rx="12.5"/><text class="mi" x="2483" y="2349">Mi16</text></g>
<g id="Mi17"><rect class="op" x="2554" y="2376" width="96" height="25" rx="12.5"/><text class="mi" x="2601" y="2349">Mi17</text></g>
<g id="Mi18"><rect class="op" x="2671" y="2376" width="96" height="25" rx="12.5"/><text class="mi" x="2716" y="2352">Mi18</text></g>
<g id="Mi19"><rect class="op" x="2788" y="2376" width="93" height="25" rx="12.5"/><text class="mi" x="2834" y="2353">Mi19</text></g>
<g id="Mi20"><rect class="op" x="2902" y="2376" width="89" height="25" rx="12.5"/><text class="mi" x="2946" y="2352">Mi20</text></g>
</g>

<g id="at-chromosomes">
<g id="At1"><rect class="gp" x="65" y="2777" width="718" height="26" rx="13"/><text class="at" x="356" y="2847">At1</text></g>
<g id="At2"><rect class="gp" x="811" y="2777" width="466" height="26" rx="13"/><text class="at" x="1029" y="2847">At2</text></g>
<g id="At3"><rect class="gp" x="1303" y="2777" width="554" height="26" rx="13"/><text class="at" x="1567" y="2847">At3</text></g>
<g id="At4"><rect class="gp" x="1885" y="2777" width="439" height="26" rx="13"/><text class="at" x="2095" y="2847">At4</text></g>
<g id="At5"><rect class="gp" x="2351" y="2777" width="639" height="26" rx="13"/><text class="at" x="2654" y="2847">At5</text></g>
</g>

<g id="connectors-C">
<path class="rl" d="M483,2401 C483,2589 349,2589 349,2777"/>
<path class="rl" d="M965,2401 C965,2589 349,2589 349,2777"/>
<path class="rl" d="M483,2401 C483,2589 2858,2589 2858,2777"/>
<path class="rl" d="M1815,2401 C1815,2589 756,2589 756,2777"/>
</g>
</svg>
